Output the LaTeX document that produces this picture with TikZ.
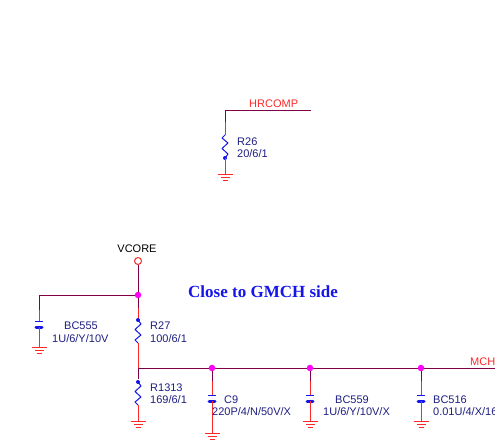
\documentclass[tikz,border=0pt]{standalone}
\usepackage{fontspec}
\setmainfont{Liberation Sans}
\newfontfamily\notefont{Liberation Serif}
\definecolor{netcol}{RGB}{128,0,72}
\definecolor{pincol}{RGB}{255,40,40}
\definecolor{partcol}{RGB}{20,20,235}
\definecolor{textcol}{RGB}{30,30,130}
\definecolor{dotcol}{RGB}{255,0,255}
\tikzset{
    net/.style={draw=netcol,line width=0.9pt},
    pin/.style={draw=pincol,line width=1pt},
    part/.style={draw=partcol,line width=1pt},
    dot/.style={circle,fill=dotcol,inner sep=0pt,minimum size=6.5pt},
    tag/.style={anchor=west,inner sep=0pt,text=textcol,font=\fontsize{11}{13}\selectfont},
    netname/.style={anchor=west,inner sep=0pt,text=pincol,font=\fontsize{11}{13}\selectfont},
    pics/ground/.style={code={
        \draw[pincol,line width=1pt] (-7.5,0) -- (7.5,0);
        \draw[pincol,line width=1pt] (-4.5,3) -- (4.5,3);
        \draw[pincol,line width=1pt] (-2.5,6) -- (2.5,6);
    }},
    pics/resistor/.style={code={
        \draw[part,line join=round] (0,0) -- (3,4) -- (-3,9.5) -- (3,15) -- (-3,20) -- (0,23);
        \fill[partcol] (0,0) circle (2);
    }},
    pics/capacitor/.style={code={
        \draw[part] (-4,0) -- (4,0);
        \draw[partcol,line width=3pt,line cap=round] (-3,6) -- (3,6);
    }}
}
\begin{document}
\begin{tikzpicture}[x=1pt,y=-1pt]
\useasboundingbox (0,0) rectangle (495,446);
\clip (0,0) rectangle (495,446);

% top net
\coordinate (hrend) at (311,110);
\coordinate (hrtop) at (225,110);
\coordinate (hrmid) at (225,122);
\coordinate (hrres) at (225,135);
\coordinate (hrlow) at (225,158);
\coordinate (hrgnd) at (225,175);
\draw[net] (hrend) -- (hrtop) -- (hrmid);
\draw[pin] (hrmid) -- (hrres);
\pic[yscale=-1] at (hrlow) {resistor};
\draw[pin] (hrlow) -- (hrgnd);
\pic at (hrgnd) {ground};
\node[netname] (hrcomp) at (249,104) {HRCOMP};
\node[tag] (r26) at (237,141.5) {R26};
\node[tag] (r26val) at (237,153.5) {20/6/1};

% supply
\node[circle,draw=pincol,line width=1pt,inner sep=0pt,minimum size=7pt] (vcore) at (138,261) {};
\node[anchor=center,inner sep=0pt,font=\fontsize{11}{13}\selectfont] (vcoretext) at (137,249) {VCORE};
\node[dot] (split) at (138,295) {};
\coordinate (left) at (39,295);
\draw[net] (vcore) -- (split);
\draw[net] (split) -- (left) -- (39,310);
\draw[pin] (39,310) -- (39,321);
\pic at (39,321) {capacitor};
\draw[pin] (39,327) -- (39,347);
\pic at (39,347) {ground};
\node[tag] (bc555) at (64,325.5) {BC555};
\node[tag] (bc555val) at (52,338.5) {1U/6/Y/10V};

% divider
\coordinate (rail) at (138,368);
\coordinate (railend) at (495,368);
\draw[net] (split) -- (138,308);
\draw[pin] (138,308) -- (138,320);
\pic at (138,320) {resistor};
\draw[pin] (138,343) -- (rail);
\draw[net] (rail) -- (railend);
\node[netname] (mch) at (470,362) {MCH};
\node[tag] (r27) at (150,325.5) {R27};
\node[tag] (r27val) at (150,338.5) {100/6/1};
\draw[net] (rail) -- (138,379);
\pic at (138,382) {resistor};
\draw[pin] (138,405) -- (138,421);
\pic at (138,421) {ground};
\node[tag] (r1313) at (150,387.5) {R1313};
\node[tag] (r1313val) at (150,399.5) {169/6/1};

% caps on the rail
\foreach \name/\x/\gnd in {cnine/212/433,cfivefivenine/310/421,cfivesixteen/421/421}
{
    \node[dot] (\name) at (\x,368) {};
    \draw[net] (\name) -- (\x,381);
    \draw[pin] (\x,381) -- (\x,395);
    \pic at (\x,395) {capacitor};
    \draw[pin] (\x,401) -- (\x,\gnd);
    \pic at (\x,\gnd) {ground};
}
\node[tag] (c9) at (224,399.5) {C9};
\node[tag] (c9val) at (212,411.5) {220P/4/N/50V/X};
\node[tag] (bc559) at (335,399.5) {BC559};
\node[tag] (bc559val) at (323,411.5) {1U/6/Y/10V/X};
\node[tag] (bc516) at (433,399.5) {BC516};
\node[tag] (bc516val) at (433,411.5) {0.01U/4/X/16};

\node[anchor=west,inner sep=0pt,text=partcol,font=\notefont\bfseries\fontsize{17}{20}\selectfont] (note) at (188,292) {Close to GMCH side};

\end{tikzpicture}
\end{document}
